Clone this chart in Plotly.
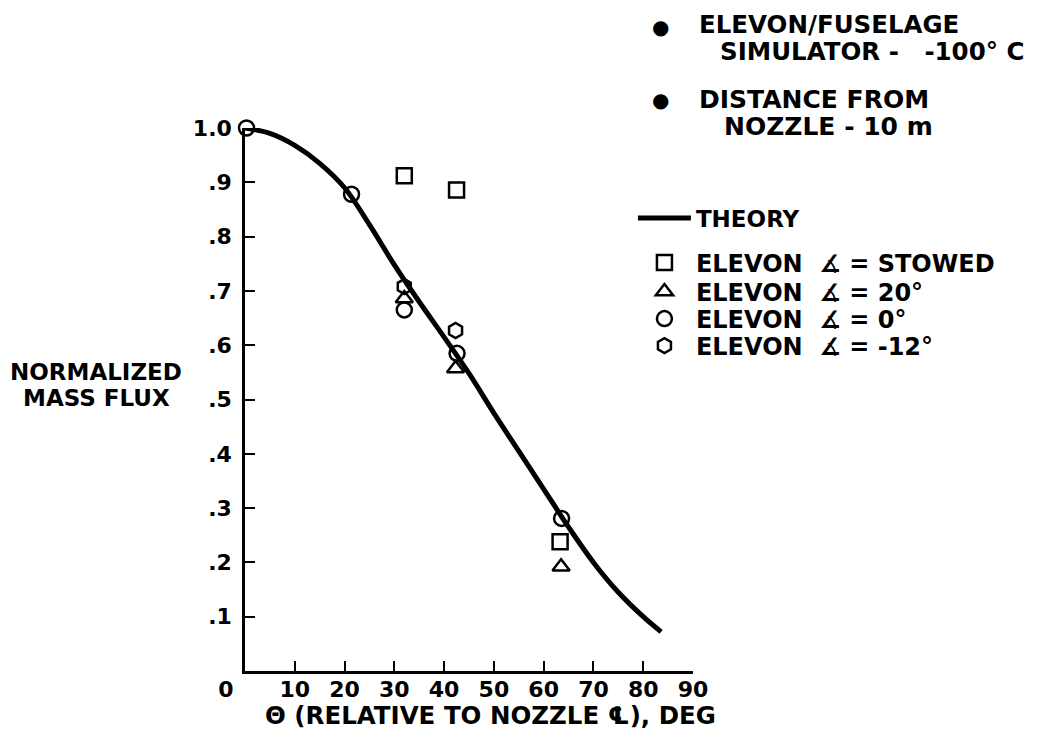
import plotly.graph_objects as go

# Theory curve
theory_theta = [0, 5, 10, 15, 20, 25, 30, 35, 40, 45, 50, 55, 60, 65, 70, 75, 80, 83.6]
theory_flux = [1.0, 0.99, 0.968, 0.935, 0.89, 0.822, 0.748, 0.68, 0.615, 0.548,
               0.475, 0.405, 0.335, 0.265, 0.2, 0.145, 0.1, 0.072]

# Measured points
stowed_theta = [32.0, 42.5, 63.3]
stowed_flux = [0.912, 0.886, 0.238]

deg20_theta = [32.0, 42.3, 63.5]
deg20_flux = [0.686, 0.557, 0.192]

deg0_theta = [0.3, 21.4, 32.0, 42.6, 63.6]
deg0_flux = [1.0, 0.878, 0.665, 0.585, 0.281]

degm12_theta = [32.0, 42.3]
degm12_flux = [0.708, 0.627]

x_tickvals = [0, 10, 20, 30, 40, 50, 60, 70, 80, 90]
x_ticktext = ["0\u00a0\u00a0\u00a0\u00a0\u00a0", "10", "20", "30", "40", "50", "60", "70", "80", "90"]
y_tickvals = [0.1, 0.2, 0.3, 0.4, 0.5, 0.6, 0.7, 0.8, 0.9, 1.0]
y_ticktext = [".1", ".2", ".3", ".4", ".5", ".6", ".7", ".8", ".9", "1.0"]

TXT = "DejaVu Sans"
FS = 23
ang = "\u2221"
sp = "\u00a0"

# screen geometry of the plot area (page has 8px body margin)
PX0, PW, PY0, PH = 245.5, 447.5, 128.0, 543.0


def px(sx):
    return (sx - PX0) / PW


def py(sy):
    return (PY0 + PH - sy) / PH


fig = go.Figure()
fig.add_trace(go.Scatter(x=theory_theta, y=theory_flux, mode="lines",
                         line=dict(color="black", width=5, shape="spline"),
                         name="THEORY", legend="legend"))


def mk(sym):
    return dict(symbol=sym, size=15, color="black", line=dict(width=2.5, color="black"))


fig.add_trace(go.Scatter(x=stowed_theta, y=stowed_flux, mode="markers", marker=mk("square-open"),
                         name=f"ELEVON{sp}{sp}{ang} = STOWED", legend="legend2", cliponaxis=False))
fig.add_trace(go.Scatter(x=deg20_theta, y=deg20_flux, mode="markers", marker=mk("triangle-up-open"),
                         name=f"ELEVON{sp}{sp}{ang} = 20°", legend="legend3", cliponaxis=False))
fig.add_trace(go.Scatter(x=deg0_theta, y=deg0_flux, mode="markers", marker=mk("circle-open"),
                         name=f"ELEVON{sp}{sp}{ang} = 0°", legend="legend4", cliponaxis=False))
fig.add_trace(go.Scatter(x=degm12_theta, y=degm12_flux, mode="markers", marker=mk("hexagon-open"),
                         name=f"ELEVON{sp}{sp}{ang} = -12°", legend="legend5", cliponaxis=False))


def leg(sy, fs):
    return dict(x=px(633), y=py(sy), xanchor="left", yanchor="middle",
                bgcolor="rgba(0,0,0,0)", borderwidth=0, itemwidth=53,
                font=dict(family=TXT, size=fs, color="black", weight="bold"))


tickfont = dict(family=TXT, size=22, color="black", weight="bold")

fig.update_layout(
    width=1043, height=743,
    margin=dict(l=237, r=358, t=120, b=80),
    paper_bgcolor="white", plot_bgcolor="white",
    font=dict(family=TXT, size=FS, color="black", weight="bold"),
    showlegend=True,
    legend=leg(218, 23),
    legend2=leg(263, 24),
    legend3=leg(292, 24),
    legend4=leg(319, 24),
    legend5=leg(346, 24),
    xaxis=dict(range=[0, 90], tickvals=x_tickvals, ticktext=x_ticktext,
               showgrid=False, zeroline=False, showline=True, linecolor="black", linewidth=2.5,
               ticks="inside", ticklen=10, tickwidth=2, tickcolor="black",
               tickfont=tickfont, ticklabelstandoff=-3),
    yaxis=dict(range=[0, 1.0], tickvals=y_tickvals, ticktext=y_ticktext,
               showgrid=False, zeroline=False, showline=True, linecolor="black", linewidth=2.5,
               ticks="inside", ticklen=10, tickwidth=2, tickcolor="black",
               tickfont=tickfont, ticklabelstandoff=6),
)

annos = [
    dict(text="\u25cf", x=661, y=27, size=20),
    dict(text="ELEVON/FUSELAGE", x=697, y=25, anchor="left", size=24.5),
    dict(text="SIMULATOR -  -100° C", x=718, y=52, anchor="left", size=24.5),
    dict(text="\u25cf", x=661, y=100, size=20),
    dict(text="DISTANCE FROM", x=697, y=100, anchor="left", size=25),
    dict(text="NOZZLE - 10 m", x=722, y=127, anchor="left", size=25),
    dict(text="NORMALIZED", x=97, y=372),
    dict(text="MASS FLUX", x=97, y=398),
    dict(text="\u0398 (RELATIVE TO NOZZLE \u2104), DEG", x=491, y=715, size=24.5),
]
for a in annos:
    fig.add_annotation(text=a["text"].replace("  ", sp + sp + sp), xref="paper", yref="paper",
                       x=px(a["x"]), y=py(a["y"]),
                       xanchor=a.get("anchor", "center"), yanchor="middle", showarrow=False,
                       font=dict(family=TXT, size=a.get("size", FS), color="black", weight="bold"))

fig.write_html("out.html")
